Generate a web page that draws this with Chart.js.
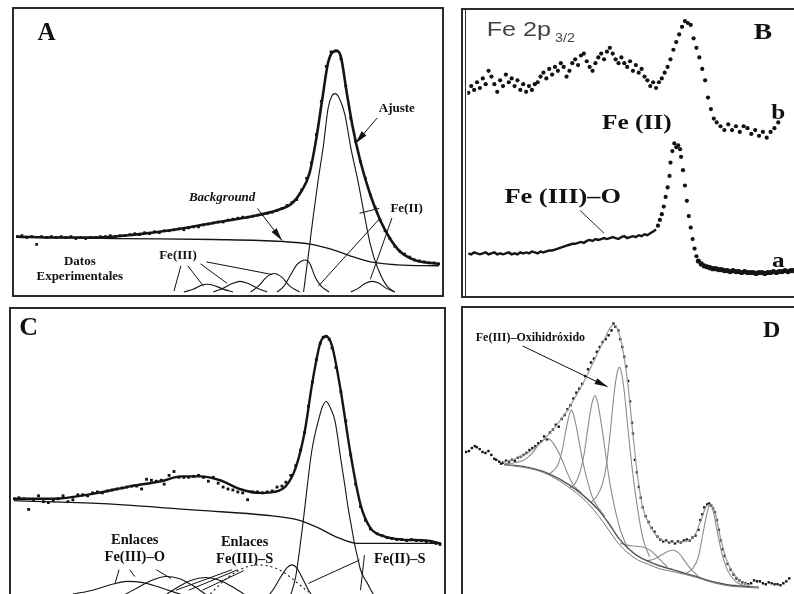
<!DOCTYPE html>
<html>
<head>
<meta charset="utf-8">
<script src="https://cdn.jsdelivr.net/npm/chart.js@4.4.1/dist/chart.umd.min.js"></script>
<style>
html, body { margin: 0; padding: 0; background: #fff; overflow: hidden; width: 794px; height: 594px; }
.panel { position: absolute; }
</style>
</head>
<body>
<div class="panel" style="left:12px;top:7px"><canvas id="chA" width="432" height="290"></canvas></div>
<div class="panel" style="left:461px;top:8px"><canvas id="chB" width="341" height="290"></canvas></div>
<div class="panel" style="left:9px;top:307px"><canvas id="chC" width="437" height="293"></canvas></div>
<div class="panel" style="left:461px;top:306px"><canvas id="chD" width="341" height="291"></canvas></div>
<script>
// Panel A: espectro experimental, ajuste, fondo y componentes
const aDataX = [0,5,10,15,20,25,30,35,40,45,50,55,60,65,70,75,80,85,90,95,100,105,110,115,120,125,130,135,140,145,150,155,160,165,170,175,180,185,190,195,200,205,210,215,220,225,230,235,240,245,250,255,260,265,270,275,280,285,290,295,300,305,310,315,320,325,330,335,340,345,350,355,360,365,370,375,380,385,390,395,400,405,410,415,420,425,430];
const aDataY = [57,58,56,57,49,57,56,57,56,57,56,57,55,56,55,56,56,57,57,58,57,58,58,59,60,59,61,60,62,61,63,63,64,65,64,66,67,67,69,70,71,72,72,74,75,76,77,77,78,79,80,81,82,84,86,89,92,95,105,117,133,162,196,232,247,248,240,212,179,155,134,117,100,87,74,63,55,47,42,39,36,33,32,31,30,30,29];
const aFitX = [0,40,80,120,160,200,240,265,280,290,298,305,311,317,322,326,330,336,342,350,360,370,380,390,405,430];
const aFitY = [57,56,56,59,64,71,78,84,91,104,122,158,198,236,247,248,242,205,170,134,100,74,55,42,33,29];
const aBgX = [0,100,200,270,300,320,340,360,387,430];
const aBgY = [57,55,54,52,49,44,37,31,28,27];
const aMainX = [292,297,302,307,312,317,321,324,328,334,340,347,354,360,367,377,385];
const aMainY = [0,39,79,116,149,189,202,204,200,183,149,116,79,49,26,6,0];
const aMidX = [265,272,279,285,290,294,298,304,310,318];
const aMidY = [0,6,18,28,32,33,30,15,6,0];
const aP1X = [238,246,254,262,270,278,288];
const aP1Y = [0,6,15,19,15,6,0];
const aP2X = [200,210,220,227,235,245,255];
const aP2Y = [0,4,9,11,9,4,0];
const aP3X = [170,180,188,194,200,210,220];
const aP3Y = [0,3,7,8,7,3,0];
const aP4X = [340,348,355,362,369,376,385];
const aP4Y = [0,4,9,11,9,4,0];

// Panel B: curvas b (arriba) y a (abajo)
const bTopX = [0,3,6,9,12,15,18,21,24,27,30,33,36,39,42,45,48,51,54,57,60,63,66,69,72,75,78,81,84,87,90,93,96,99,102,105,108,111,114,117,120,123,126,129,132,135,138,141,144,147,150,153,156,159,162,165,168,171,174,177,180,183,186,189,192,195,198,201,204,207,210,213,216,219,222,225,228,231,234,237,240,243,246,249,252,255,258,262,266,270,274,278,282,286,290,294,298,302,306,310,314,318,322];
const bTopY = [205,212,208,216,210,220,214,228,222,214,206,218,212,224,216,220,212,218,208,214,206,212,208,214,216,222,226,220,230,224,232,228,236,232,222,228,236,240,234,244,246,238,232,228,236,242,246,240,248,252,246,240,236,242,236,232,238,228,234,226,230,222,218,212,216,210,216,220,226,232,240,250,258,266,274,280,278,276,262,252,242,230,218,200,188,178,174,170,166,172,166,170,164,170,168,162,166,160,164,158,164,168,174];
const bLowX = [0,3,6,9,12,15,18,21,24,27,30,33,36,39,42,45,48,51,54,57,60,63,66,69,72,75,78,81,84,87,90,93,96,99,102,105,108,111,114,117,120,123,126,129,132,135,138,141,144,147,150,153,156,159,162,165,168,171,174,177,180,183,186,189,192,195];
const bLowY = [37,36,38,37,36,37,38,36,37,38,36,37,36,37,38,36,37,36,38,37,38,37,39,38,37,39,38,39,40,40,41,42,43,44,45,46,47,47,48,49,48,50,51,50,52,51,52,53,52,53,54,53,52,54,55,53,54,55,54,56,55,57,56,58,60,62];
const bPeakX = [197,199,201,203,205,207,209,210,212,214,216,218,220,221,223,225,227,229,231,233,235,237];
const bPeakY = [66,72,78,86,96,106,118,132,144,152,148,150,146,138,124,108,92,76,64,52,42,34];
const bTailX = [239,242,245,248,251,254,257,260,263,266,269,272,275,278,281,284,287,290,293,296,299,302,305,308,311,314,317,320,323,326,329,332,335,338];
const bTailY = [29,26,24,23,22,21,21,20,20,19,19,18,19,18,18,17,18,17,17,17,16,17,17,16,17,17,18,17,18,18,19,18,19,19];

// Panel C
const cDataX = [0,5,10,15,20,25,30,35,40,45,50,55,60,65,70,75,80,85,90,95,100,105,110,115,120,125,130,135,140,145,150,153,158,163,168,173,178,183,188,193,198,203,208,213,218,223,228,233,238,243,248,253,258,263,268,273,277,282,287,292,296,300,304,308,312,315,318,321,324,328,333,338,343,348,353,358,363,370,375,380,385,390,395,400,405,410,415,420,425,430,434];
const cDataY = [100,101,100,89,99,103,97,96,98,100,103,97,99,104,104,103,106,107,106,108,109,110,111,112,113,113,110,120,119,118,119,115,124,128,122,122,122,123,124,122,118,122,116,112,110,109,107,106,99,107,107,106,107,108,112,113,117,124,134,150,168,195,220,243,260,266,267,264,255,235,210,180,145,115,92,78,69,64,62,60,59,58,58,57,58,57,57,56,56,54,53];
const cFitX = [0,40,80,120,150,170,190,210,230,250,265,277,287,296,304,312,318,324,333,343,353,363,375,395,420,435];
const cFitY = [100,100,105,113,118,123,123,119,110,106,107,113,132,168,220,260,267,257,210,145,94,70,62,58,57,54];
const cBgX = [0,90,190,257,290,310,330,350,435];
const cBgY = [98,95,88,83,78,70,60,54,54];
const cMainX = [280,287,291,295,299,303,307,310,314,318,322,327,333,337,340,344,347,350,353,357,360,366,372];
const cMainY = [-5,20,48,80,115,147,168,180,194,200,194,180,140,114,93,70,53,40,27,18,13,2,-4];
const cBumpX = [255,265,272,278,283,288,294,300,308];
const cBumpY = [-5,8,20,29,32,29,18,6,-5];
const cDotX = [200,212,225,237,248,258,268,278,288,300];
const cDotY = [2,14,24,30,32,31,28,22,14,4];
const cArc1X = [60,80,100,115,130,145,160,175];
const cArc1Y = [2,6,12,15,14,10,5,0];
const cArc2X = [110,125,140,155,168,180,195];
const cArc2Y = [0,8,16,20,18,12,2];
const cArc3X = [150,165,180,195,210,225,240];
const cArc3Y = [-2,8,16,19,16,8,-2];

// Panel D
const dDataX = [0,3,6,9,11,14,17,20,23,26,29,31,34,36,38,41,44,47,50,53,56,59,62,65,68,71,74,77,80,83,86,89,92,95,98,101,104,107,110,113,116,119,122,125,128,131,134,137,140,143,146,149,151,153,156,158,160,162,164,166,168,170,171,173,175,177,179,181,184,187,190,193,196,199,202,205,208,211,214,217,220,223,226,229,232,235,238,240,242,244,247,249,251,253,255,257,259,261,263,265,268,271,274,277,280,283,286,289,292,295,298,301,304,307,310,313,316,319,322,325,328,331];
const dDataY = [142,143,146,148,147,145,142,141,143,139,135,134,132,130,131,133,132,134,133,136,137,139,141,144,146,148,151,153,158,155,162,165,170,168,176,180,186,190,197,203,207,212,220,227,234,238,245,250,255,258,262,267,274,271,267,258,250,240,230,215,194,172,161,134,121,106,95,85,76,70,64,60,55,52,50,51,49,50,48,50,49,51,52,51,54,56,62,72,78,85,88,89,87,84,80,72,62,51,42,35,27,21,16,12,10,8,7,6,7,10,9,9,7,6,8,7,6,6,5,7,9,12];
const dFitX = [38,60,80,100,120,140,151,156,161,166,171,176,181,188,198,215,232,240,246,250,255,261,268,278,290];
const dFitY = [131,139,155,179,213,254,273,266,245,210,160,115,85,67,53,49,53,70,86,88,80,52,28,12,5];
const dBgX = [39,60,79,96,113,125,136,146,156,166,176,188,198,212,225,236,248,260,271,285,300];
const dBg1Y = [129,127,122,114,103,93,82,69,54,43,35,29,25,21,17,14,10,7,5,4,3];
const dBg2Y = [129,126,121,112,100,89,76,62,48,38,31,26,22,19,16,13,9,6,4,3,2];
const dC1X = [40,50,60,68,74,79,83,87,92,98,104,110,118];
const dC1Y = [130,131,134,141,149,154,156,154,147,135,120,108,100];
const dC2X = [84,90,95,99,103,106,108,110,113,117,121,125,130,136,142];
const dC2Y = [119,123,131,146,168,181,185,181,168,146,126,110,94,84,76];
const dC3X = [106,112,117,121,125,129,132,135,139,143,147,152,158,166];
const dC3Y = [105,110,122,140,168,192,200,192,168,140,112,86,62,42];
const dC4X = [128,135,140,144,148,152,155,157,159,162,165,168,172,176,181,188];
const dC4Y = [90,98,110,130,165,205,224,229,225,205,175,145,110,82,54,34];
const dC5X = [158,166,174,182,190,198,206];
const dC5Y = [48,46,45,44,40,32,24];
const dC6X = [185,193,200,207,212,218,224,230,238];
const dC6Y = [30,32,36,40,41,38,30,22,14];
const dC7X = [225,232,238,243,247,250,253,257,262,268,276,286];
const dC7Y = [17,22,34,60,80,88,82,62,38,20,9,4];

const SERIF = '"Liberation Serif", "DejaVu Serif", serif';

function pts(xs, ys) {
    return xs.map((x, i) => ({ x: x, y: ys[i] }));
}

function lineSet(xs, ys, opts) {
    return Object.assign({
        data: pts(xs, ys), showLine: true, borderColor: '#151515', borderWidth: 1.1,
        pointRadius: 0, cubicInterpolationMode: 'monotone', fill: false
    }, opts || {});
}

function dotSet(xs, ys, opts) {
    return Object.assign({
        data: pts(xs, ys), showLine: false, pointStyle: 'rect', pointRadius: 1.8,
        pointBackgroundColor: '#111', pointBorderWidth: 0, borderWidth: 0
    }, opts || {});
}

// Textos, flechas y marco de cada panel
function notesPlugin(items, frame) {
    return {
        id: 'notes',
        beforeDraw(chart) {
            const ctx = chart.ctx;
            ctx.save();
            ctx.fillStyle = '#fff';
            ctx.fillRect(0, 0, chart.width, chart.height);
            ctx.restore();
        },
        afterDatasetsDraw(chart) {
            const ctx = chart.ctx;
            const sx = chart.scales.x, sy = chart.scales.y;
            ctx.save();
            items.forEach(n => {
                if (n.text) {
                    ctx.font = n.font;
                    ctx.fillStyle = n.color || '#111';
                    ctx.textAlign = n.align || 'center';
                    ctx.textBaseline = n.base || 'middle';
                    ctx.save();
                    ctx.translate(sx.getPixelForValue(n.x), sy.getPixelForValue(n.y));
                    ctx.scale(n.sx || 1, 1);
                    ctx.fillText(n.text, 0, 0);
                    ctx.restore();
                } else if (n.line) {
                    const x1 = sx.getPixelForValue(n.line[0]), y1 = sy.getPixelForValue(n.line[1]);
                    const x2 = sx.getPixelForValue(n.line[2]), y2 = sy.getPixelForValue(n.line[3]);
                    ctx.strokeStyle = '#111';
                    ctx.lineWidth = n.w || 1;
                    ctx.beginPath();
                    ctx.moveTo(x1, y1);
                    ctx.lineTo(x2, y2);
                    ctx.stroke();
                    if (n.arrow) {
                        const ang = Math.atan2(y2 - y1, x2 - x1);
                        const len = 13, half = 3.2;
                        ctx.fillStyle = '#111';
                        ctx.beginPath();
                        ctx.moveTo(x2, y2);
                        ctx.lineTo(x2 - len * Math.cos(ang) + half * Math.sin(ang), y2 - len * Math.sin(ang) - half * Math.cos(ang));
                        ctx.lineTo(x2 - len * Math.cos(ang) - half * Math.sin(ang), y2 - len * Math.sin(ang) + half * Math.cos(ang));
                        ctx.closePath();
                        ctx.fill();
                    }
                }
            });
            // marco
            ctx.strokeStyle = '#2a2a2a';
            ctx.lineWidth = 2;
            ctx.strokeRect(1, 1, chart.width - 2, chart.height - 2 + (frame.openBottom ? 20 : 0));
            if (frame.doubleLeft) {
                ctx.lineWidth = 1;
                ctx.beginPath();
                ctx.moveTo(4.5, 1);
                ctx.lineTo(4.5, chart.height - 1);
                ctx.stroke();
            }
            ctx.restore();
        }
    };
}

function makePanel(id, xr, yr, datasets, items, frame) {
    return new Chart(document.getElementById(id), {
        type: 'scatter',
        data: { datasets: datasets },
        options: {
            responsive: false,
            animation: false,
            events: [],
            layout: { padding: 0 },
            plugins: { legend: { display: false }, tooltip: { enabled: false } },
            scales: {
                x: { type: 'linear', min: xr[0], max: xr[1], display: false },
                y: { type: 'linear', min: yr[0], max: yr[1], display: false }
            }
        },
        plugins: [notesPlugin(items, frame || {})]
    });
}

// ---- A ----
makePanel('chA', [-1, 431], [-1, 289], [
    lineSet(aP3X, aP3Y), lineSet(aP2X, aP2Y), lineSet(aP1X, aP1Y),
    lineSet(aMidX, aMidY), lineSet(aP4X, aP4Y), lineSet(aMainX, aMainY),
    lineSet(aBgX, aBgY, { borderWidth: 1.3 }),
    lineSet(aFitX, aFitY, { borderWidth: 2.6 }),
    dotSet(aDataX, aDataY, { pointRadius: 1.9 })
], [
    { text: 'A', x: 30, y: 266, font: 'bold 25px ' + SERIF },
    { text: 'Datos', x: 64, y: 31, font: 'bold 13px ' + SERIF },
    { text: 'Experimentales', x: 64, y: 16, font: 'bold 13px ' + SERIF },
    { text: 'Fe(III)', x: 164, y: 37, font: 'bold 13px ' + SERIF },
    { line: [167, 27, 160, 1] }, { line: [174, 27, 190, 6] },
    { line: [187, 29, 214, 9] }, { line: [193, 31, 260, 18] },
    { text: 'Background', x: 209, y: 97, font: 'italic bold 13px ' + SERIF },
    { line: [245, 86, 270, 53], arrow: true },
    { text: 'Ajuste', x: 387, y: 189, font: 'bold 13px ' + SERIF },
    { line: [367, 179, 345, 153], arrow: true },
    { text: 'Fe(II)', x: 397, y: 86, font: 'bold 13px ' + SERIF },
    { line: [369, 86, 349, 81] }, { line: [370, 76, 307, 6] }, { line: [382, 76, 360, 13] }
]);

// ---- B ----
makePanel('chB', [-1, 340], [-3, 287], [
    dotSet(bTopX, bTopY, { pointStyle: 'circle', pointRadius: 2.1 }),
    lineSet(bLowX, bLowY, { borderWidth: 2.4, cubicInterpolationMode: 'default', tension: 0 }),
    dotSet(bPeakX, bPeakY, { pointStyle: 'circle', pointRadius: 2.1 }),
    lineSet(bTailX, bTailY, { borderWidth: 2.4, cubicInterpolationMode: 'default', tension: 0, pointRadius: 1.4, pointBackgroundColor: '#111' })
], [
    { text: 'Fe 2p', x: 19, y: 264, align: 'left', base: 'alphabetic', sx: 1.2, color: '#444', font: '21px "Liberation Sans", Arial, sans-serif' },
    { text: '3/2', x: 90, y: 258, align: 'left', base: 'alphabetic', sx: 1.1, color: '#444', font: '13px "Liberation Sans", Arial, sans-serif' },
    { text: 'B', x: 306, y: 267, sx: 1.2, font: 'bold 23px ' + SERIF },
    { text: 'b', x: 322, y: 183, sx: 1.2, font: 'bold 21px ' + SERIF },
    { text: 'a', x: 322, y: 28, sx: 1.2, font: 'bold 21px ' + SERIF },
    { text: 'Fe (II)', x: 175, y: 173, sx: 1.15, font: 'bold 22px ' + SERIF },
    { text: 'Fe (III)–O', x: 98, y: 96, sx: 1.2, font: 'bold 22px ' + SERIF },
    { line: [116, 82, 141, 58], w: 0.9 }
], { doubleLeft: true });

// ---- C ----
makePanel('chC', [-1, 436], [0, 293], [
    lineSet(cArc1X, cArc1Y), lineSet(cArc2X, cArc2Y), lineSet(cArc3X, cArc3Y),
    lineSet(cDotX, cDotY, { borderDash: [2, 3] }),
    lineSet(cBumpX, cBumpY), lineSet(cMainX, cMainY),
    lineSet(cBgX, cBgY, { borderWidth: 1.3 }),
    lineSet(cFitX, cFitY, { borderWidth: 2.4 }),
    dotSet(cDataX, cDataY, { pointRadius: 2 })
], [
    { text: 'C', x: 15, y: 275, font: 'bold 26px ' + SERIF },
    { text: 'Enlaces', x: 123, y: 57, font: 'bold 14.5px ' + SERIF },
    { text: 'Fe(III)–O', x: 123, y: 40, font: 'bold 14.5px ' + SERIF },
    { line: [107, 27, 103, 13] }, { line: [118, 27, 123, 20] }, { line: [145, 27, 160, 18] },
    { text: 'Enlaces', x: 235, y: 55, font: 'bold 14.5px ' + SERIF },
    { text: 'Fe(III)–S', x: 235, y: 38, font: 'bold 14.5px ' + SERIF },
    { line: [222, 27, 165, 6] }, { line: [228, 27, 178, 6] }, { line: [234, 26, 192, 6] },
    { text: 'Fe(II)–S', x: 393, y: 38, font: 'bold 14.5px ' + SERIF },
    { line: [352, 37, 300, 13] }, { line: [357, 42, 353, 6] }
], { openBottom: true });

// ---- D ----
const GREY = '#8c8c8c';
makePanel('chD', [-1, 340], [-3, 288], [
    lineSet(dBgX, dBg2Y, { borderColor: '#777', borderWidth: 1 }),
    lineSet(dBgX, dBg1Y, { borderColor: '#555', borderWidth: 1.4 }),
    lineSet(dC1X, dC1Y, { borderColor: GREY }), lineSet(dC2X, dC2Y, { borderColor: GREY }),
    lineSet(dC3X, dC3Y, { borderColor: GREY }), lineSet(dC4X, dC4Y, { borderColor: GREY }),
    lineSet(dC5X, dC5Y, { borderColor: GREY }), lineSet(dC6X, dC6Y, { borderColor: GREY }),
    lineSet(dC7X, dC7Y, { borderColor: GREY }),
    lineSet(dFitX, dFitY, { borderColor: '#999', borderWidth: 1.2 }),
    dotSet(dDataX, dDataY, { pointRadius: 1.7 })
], [
    { text: 'D', x: 313, y: 267, font: 'bold 24px ' + SERIF },
    { text: 'Fe(III)–Oxihidróxido', x: 66, y: 259, font: 'bold 12px ' + SERIF },
    { line: [58, 251, 145, 209], arrow: true }
], { openBottom: true });
</script>
</body>
</html>
